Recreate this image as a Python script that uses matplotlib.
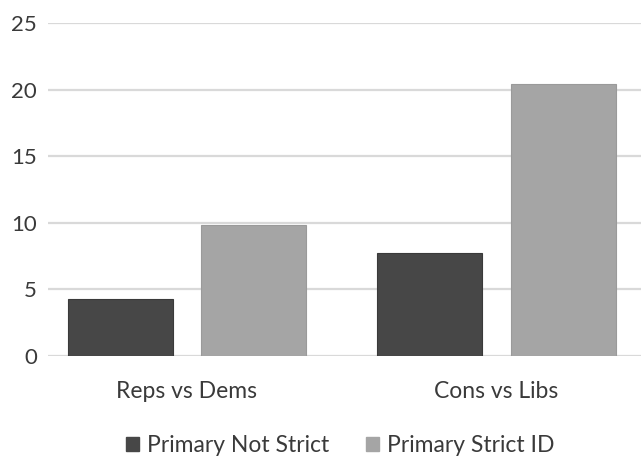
import numpy as np
import matplotlib
matplotlib.use("Agg")
import matplotlib.pyplot as plt
from matplotlib.patches import Patch

plt.rcParams["font.family"] = ["Lato", "DejaVu Sans"]

categories = ["Reps vs Dems", "Cons vs Libs"]
series_names = ["Primary Not Strict", "Primary Strict ID"]
not_strict = [4.3, 7.7]
strict_id = [9.8, 20.4]
y_ticks = [0, 5, 10, 15, 20, 25]

DARK = "#474747"
LIGHT = "#a5a5a5"
TEXT = "#3a3a3a"
GRID = "#d9d9d9"

W, H = 641, 458
fig = plt.figure(figsize=(W / 100, H / 100), dpi=100)
# plot area in pixel terms: left edge 48, y=25 at 23px, y=0 at 356px
ax = fig.add_axes([48 / W, (H - 356) / H, (W - 48) / W, (356 - 23) / H])

x = np.arange(len(categories))
bw = 0.339
off = 0.2157
ax.bar(x - off, not_strict, bw, color=DARK, edgecolor="#3a3a3a", linewidth=0.8, zorder=3)
ax.bar(x + off, strict_id, bw, color=LIGHT, edgecolor="#9a9a9a", linewidth=0.8, zorder=3)

ax.set_xlim(-0.449, 1.467)
ax.set_ylim(0, 25)
ax.set_yticks(y_ticks)
ax.set_yticklabels([str(v) for v in y_ticks], fontsize=16)
ax.set_xticks(x)
ax.set_xticklabels(categories, fontsize=16.5)

ax.yaxis.grid(True, color=GRID, linewidth=1.6, zorder=0)
ax.set_axisbelow(True)
for s in ax.spines.values():
    s.set_visible(False)
ax.tick_params(axis="both", length=0, colors=TEXT)
ax.tick_params(axis="y", pad=8)
ax.tick_params(axis="x", pad=18)

handles = [Patch(facecolor=DARK, edgecolor=DARK), Patch(facecolor=LIGHT, edgecolor=LIGHT)]
fig.legend(handles, series_names, loc="center", bbox_to_anchor=(340 / W, (H - 446) / H),
           ncol=2, frameon=False, fontsize=16.5, labelcolor=TEXT,
           handlelength=0.57, handleheight=0.57, handletextpad=0.35, columnspacing=1.6)

fig.savefig("out.png", dpi=100, facecolor="white")
